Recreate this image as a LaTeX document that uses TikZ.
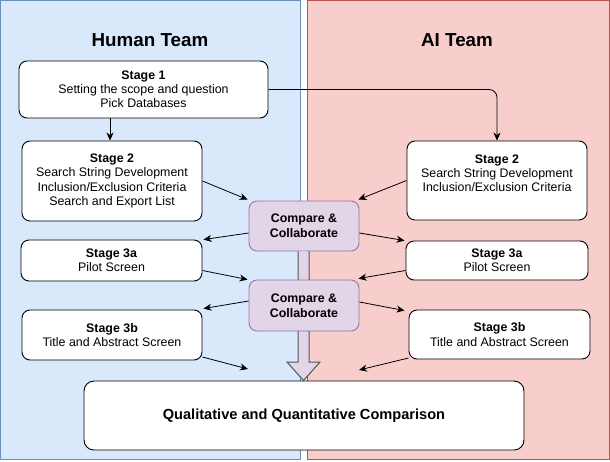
\documentclass[tikz,border=0pt]{standalone}
\usepackage{fontspec}
\setmainfont{Liberation Sans}
\usetikzlibrary{arrows.meta,calc}
\definecolor{bluef}{HTML}{DAE8FC}
\definecolor{blued}{HTML}{6C8EBF}
\definecolor{redf}{HTML}{F8CECC}
\definecolor{redd}{HTML}{B85450}
\definecolor{purf}{HTML}{E1D5E7}
\definecolor{purd}{HTML}{9673A6}
\definecolor{arrg}{HTML}{555555}
\begin{document}
\begin{tikzpicture}[x=1pt,y=-1pt,
  stagebox/.style={draw=black,fill=white,rounded corners=8pt,line width=0.9pt,align=center,
    font=\fontsize{12.4}{14.2}\selectfont,inner sep=0pt},
  cmpbox/.style={draw=purd,fill=purf,rounded corners=8pt,line width=0.9pt,align=center,
    font=\bfseries\fontsize{12.4}{15}\selectfont,inner sep=0pt,minimum width=110pt},
  conn/.style={line width=0.8pt,-{Stealth[length=8pt,width=7pt,inset=2.5pt]}},
  title/.style={font=\bfseries\fontsize{18.8}{20}\selectfont}]
\useasboundingbox (0,0) rectangle (610,461);
% panels
\path[fill=bluef,draw=blued,line width=1pt] (0.5,0.5) rectangle (300.5,459.5);
\path[fill=redf,draw=redd,line width=1pt] (307.5,0.5) rectangle (609.5,459.5);
\node[title] (th) at (150,40) {Human Team};
\node[title] (ta) at (457,40) {AI Team};
% stage boxes
\node[stagebox,minimum width=249pt,minimum height=57pt] (s1) at (143.5,89.5)
  {\textbf{Stage 1}\\Setting the scope and question\\Pick Databases};
\node[stagebox,minimum width=180pt,minimum height=80pt] (s2l) at (112,181)
  {\textbf{Stage 2}\\Search String Development\\Inclusion/Exclusion Criteria\\Search and Export List};
\node[stagebox,minimum width=180pt,minimum height=79pt] (s2r) at (497,180.5)
  {\textbf{Stage 2}\\Search String Development\\Inclusion/Exclusion Criteria\\\mbox{}};
\node[stagebox,minimum width=181pt,minimum height=41pt] (s3al) at (111.5,260.5)
  {\textbf{Stage 3a}\\Pilot Screen};
\node[stagebox,minimum width=182pt,minimum height=39pt] (s3ar) at (497,260.5)
  {\textbf{Stage 3a}\\Pilot Screen};
\node[stagebox,minimum width=180pt,minimum height=50pt] (s3bl) at (112,335)
  {\textbf{Stage 3b}\\Title and Abstract Screen};
\node[stagebox,minimum width=181pt,minimum height=49pt] (s3br) at (499.5,334.5)
  {\textbf{Stage 3b}\\Title and Abstract Screen};
\node[stagebox,minimum width=440pt,minimum height=69pt,rounded corners=10pt,
  font=\bfseries\fontsize{14.6}{16}\selectfont] (fin) at (304,415.5)
  {Qualitative and Quantitative Comparison};
% compare boxes and big arrow
\node[cmpbox,minimum height=50pt] (c1) at (304,226) {Compare \&\\Collaborate};
\draw[fill=purf,draw=arrg,line width=1pt]
  (c1.south -| 298,0) -- (298,362) -- (287,362) -- (fin.north -| 303.5,0) -- (320,362) -- (309,362) -- (c1.south -| 309,0);
\node[cmpbox,minimum height=51pt] (c2) at (304,305.5) {Compare \&\\Collaborate};
% free-end coordinates
\coordinate (e1) at (248,369);
\coordinate (e2) at (359,370);
% connectors
\draw[conn] (s1.south -| 110,0) -- (s2l.north -| 110,0);
\draw[conn,rounded corners=8pt] (s1.east) -- (s1.east -| s2r.north) -- (s2r.north);
\draw[conn] (s2l.east) -- ($(c1.north west)+(-1,-1)$);
\draw[conn] (s2r.west) -- ($(c1.north east)+(-1,-1)$);
\draw[conn] ($(c1.west)+(0,7)$) -- ($(s3al.north east)+(1,0)$);
\draw[conn] ($(c1.east)+(0,7)$) -- ($(s3ar.north west)+(-1,0)$);
\draw[conn] ($(s3al.east)+(0,10)$) -- ($(c2.north west)+(-1,0)$);
\draw[conn] ($(s3ar.west)+(0,10)$) -- ($(c2.north east)+(-1,-1)$);
\draw[conn] ($(c2.west)+(0,-4.5)$) -- ($(s3bl.north east)+(1,-1)$);
\draw[conn] ($(c2.east)+(0,-3.5)$) -- ($(s3br.north west)+(-4,1)$);
\draw[conn] ($(s3bl.east)+(0,22)$) -- (e1);
\draw[conn] ($(s3br.west)+(0,23.5)$) -- (e2);
\end{tikzpicture}
\end{document}
